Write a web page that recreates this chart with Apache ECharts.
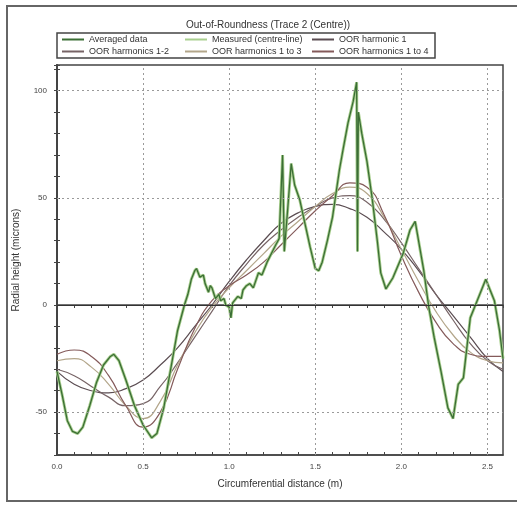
<!DOCTYPE html>
<html>
<head>
<meta charset="utf-8">
<script src="https://cdn.jsdelivr.net/npm/echarts@6/dist/echarts.min.js"></script>
<style>
  html, body { margin: 0; padding: 0; background: #fff; }
  #chart { width: 517px; height: 506px; }
</style>
</head>
<body>
<div id="chart"></div>
<script>
// harmonic fits, sampled every 0.1 m
const harmX = [0, 0.1, 0.2, 0.3, 0.4, 0.5, 0.6, 0.7, 0.8, 0.9, 1.0, 1.1, 1.2, 1.3, 1.4,
  1.5, 1.6, 1.7, 1.8, 1.9, 2.0, 2.1, 2.2, 2.3, 2.4, 2.5, 2.59];
const harm1 = [-31, -37, -40, -41, -39, -35, -28, -20, -10, 0, 11, 21, 30, 38, 43,
  46, 47, 45, 41, 34, 26, 16, 5, -5, -15, -25, -31];
const harm12 = [-30, -33, -38, -43, -47, -46, -38, -27, -15, -3, 9, 19, 28, 35, 41,
  46, 50, 51, 48, 40, 29, 17, 5, -7, -18, -26, -30];
const harm13 = [-26, -25, -29, -37, -47, -53, -45, -28, -13, -1, 8, 16, 24, 32, 39,
  46, 52, 55, 52, 41, 26, 11, -3, -14, -22, -26, -27];
const harm14 = [-23, -21, -24, -33, -47, -57, -50, -30, -11, 2, 9, 14, 20, 28, 36,
  44, 51, 57, 55, 42, 23, 6, -8, -18, -23, -24, -24];

// measured trace (centre-line)
const traceX = [0.00, 0.03, 0.06, 0.09, 0.12, 0.15, 0.19, 0.23, 0.27, 0.31, 0.33, 0.36, 0.40,
  0.45, 0.50, 0.55, 0.58, 0.62, 0.66, 0.70, 0.74, 0.76, 0.78, 0.80, 0.81, 0.83, 0.85, 0.86,
  0.88, 0.89, 0.90, 0.92, 0.94, 0.95, 0.97, 0.98, 1.00, 1.01, 1.02, 1.05, 1.07, 1.08, 1.10,
  1.12, 1.14, 1.17, 1.19, 1.22, 1.27, 1.29, 1.31,
  1.32, 1.34, 1.36, 1.38, 1.41, 1.44, 1.47, 1.50, 1.52, 1.54, 1.57, 1.60, 1.64, 1.66, 1.69,
  1.72, 1.74, 1.745, 1.75, 1.77, 1.80, 1.83, 1.86, 1.88, 1.91, 1.95, 2.01, 2.05, 2.08, 2.13,
  2.16, 2.19, 2.23, 2.27, 2.30, 2.33, 2.36, 2.40, 2.44, 2.49, 2.54, 2.57, 2.59];
const traceY = [-31, -42, -54, -59, -60, -57, -47, -36, -28, -24, -23, -26, -35,
  -47, -56, -62, -60, -48, -30, -12, 0, 5, 12, 16, 17, 13, 14, 10,
  6, 9, 8, 3, 5, 2, 3, 0, -1, -6, 1, 4, 3, 7, 9,
  10, 8, 15, 14, 20, 28, 31, 70,
  25, 45, 66, 56, 49, 38, 27, 17, 16, 20, 30, 41, 63, 72, 85,
  95, 104, 25, 90, 80, 67, 50, 30, 15, 7.5, 12.6, 24, 35, 39, 16,
  -1.5, -15, -31, -48, -53, -37, -34, -6, 2, 12, 2, -12, -25];

const gridX = [0.5, 1.0, 1.5, 2.0, 2.5];
const gridY = [-50, 50, 100];

const pairs = (xs, ys) => xs.map((x, i) => [x, ys[i]]);

const FONT = 'Liberation Sans';
const chart = echarts.init(document.getElementById('chart'));

const names = ['Averaged data', 'Measured (centre-line)', 'OOR harmonic 1',
  'OOR harmonics 1-2', 'OOR harmonics 1 to 3', 'OOR harmonics 1 to 4'];
const colors = ['#3b6e35', '#a9cf8f', '#5b4d52', '#776466', '#b3a68a', '#845a5a'];

const legendPos = [
  { left: 62, top: 35 }, { left: 185, top: 35 }, { left: 312, top: 35 },
  { left: 62, top: 47 }, { left: 185, top: 47 }, { left: 312, top: 47 },
];

const legends = names.map((n, i) => ({
  data: [n],
  left: legendPos[i].left,
  top: legendPos[i].top,
  padding: 0,
  icon: 'rect',
  itemWidth: 22,
  itemHeight: 2,
  itemGap: 4,
  selectedMode: false,
  textStyle: { fontFamily: FONT, fontSize: 9, color: '#333' },
}));

const lineSeries = (name, data, color, width, z, smooth) => ({
  name,
  type: 'line',
  data,
  showSymbol: false,
  symbol: 'none',
  smooth,
  color,
  lineStyle: { color, width },
  z,
});

const option = {
  animation: false,
  backgroundColor: '#fff',
  title: {
    text: 'Out-of-Roundness (Trace 2 (Centre))',
    left: 263,
    top: 15,
    textAlign: 'center',
    textStyle: { fontFamily: FONT, fontSize: 10, fontWeight: 'normal', color: '#333' },
  },
  legend: legends,
  grid: {
    left: 57, right: 14, top: 65, bottom: 51,
    show: true, borderColor: '#444', borderWidth: 1.5,
  },
  xAxis: [
    {
      type: 'value', min: 0, max: 2.59, interval: 0.1,
      name: 'Circumferential distance (m)',
      nameLocation: 'middle', nameGap: 24,
      nameTextStyle: { fontFamily: FONT, fontSize: 10, color: '#333' },
      axisLine: { show: true, onZero: false, lineStyle: { color: '#444', width: 1.5 } },
      axisTick: { show: true, inside: true, length: 3, lineStyle: { color: '#444' } },
      axisLabel: {
        fontFamily: FONT, fontSize: 8, color: '#444', margin: 8, showMaxLabel: false,
        formatter: v => (Math.abs(v * 2 - Math.round(v * 2)) < 1e-6 ? v.toFixed(1) : ''),
      },
      splitLine: { show: false },
    },
    {
      type: 'value', min: 0, max: 2.59, interval: 0.1, position: 'top',
      axisLine: { show: true, lineStyle: { color: '#444', width: 1.5 } },
      axisTick: { show: true, inside: true, length: 3, lineStyle: { color: '#444' } },
      axisLabel: { show: false },
      splitLine: { show: false },
    },
  ],
  yAxis: [
    {
      type: 'value', min: -70, max: 112, interval: 10,
      name: 'Radial height (microns)',
      nameLocation: 'middle', nameGap: 36,
      nameTextStyle: { fontFamily: FONT, fontSize: 10, color: '#333' },
      axisLine: { show: true, onZero: false, lineStyle: { color: '#444', width: 2 } },
      axisTick: { show: true, inside: true, length: 3, lineStyle: { color: '#444' } },
      axisLabel: {
        fontFamily: FONT, fontSize: 8, color: '#444', margin: 10,
        formatter: v => (v % 50 === 0 ? String(v) : ''),
      },
      splitLine: { show: false },
    },
    {
      type: 'value', min: -70, max: 112, interval: 10, position: 'right',
      axisLine: { show: true, lineStyle: { color: '#444', width: 1.5 } },
      axisTick: { show: true, inside: true, length: 3, lineStyle: { color: '#444' } },
      axisLabel: { show: false },
      splitLine: { show: false },
    },
  ],
  series: [
    {
      type: 'line', data: [], silent: true,
      markLine: {
        silent: true, symbol: 'none', label: { show: false },
        lineStyle: { color: '#9a9a9a', type: [2, 3], width: 1 },
        data: gridX.map(x => ({ xAxis: x })).concat(gridY.map(y => ({ yAxis: y }))),
      },
      z: 1,
    },
    {
      type: 'line', data: [], silent: true,
      markLine: {
        silent: true, symbol: 'none', label: { show: false },
        lineStyle: { color: '#333', type: 'solid', width: 1 },
        data: [{ yAxis: 0 }],
      },
      z: 1,
    },
    lineSeries(names[2], pairs(harmX, harm1), colors[2], 1.2, 2, 0.5),
    lineSeries(names[3], pairs(harmX, harm12), colors[3], 1.2, 2, 0.5),
    lineSeries(names[4], pairs(harmX, harm13), colors[4], 1.2, 2, 0.5),
    lineSeries(names[5], pairs(harmX, harm14), colors[5], 1.2, 2, 0.5),
    lineSeries(names[1], pairs(traceX, traceY), colors[1], 3, 3, false),
    lineSeries(names[0], pairs(traceX, traceY), colors[0], 1.3, 4, false),
  ],
  graphic: [
    {
      type: 'rect', shape: { x: 7, y: 6, width: 530, height: 495 },
      style: { fill: 'none', stroke: '#666', lineWidth: 2 }, silent: true, z: -1,
    },
    {
      type: 'rect', shape: { x: 57, y: 33, width: 378, height: 25 },
      style: { fill: 'none', stroke: '#444', lineWidth: 1.5 }, silent: true,
    },
  ],
};

chart.setOption(option);
</script>
</body>
</html>
